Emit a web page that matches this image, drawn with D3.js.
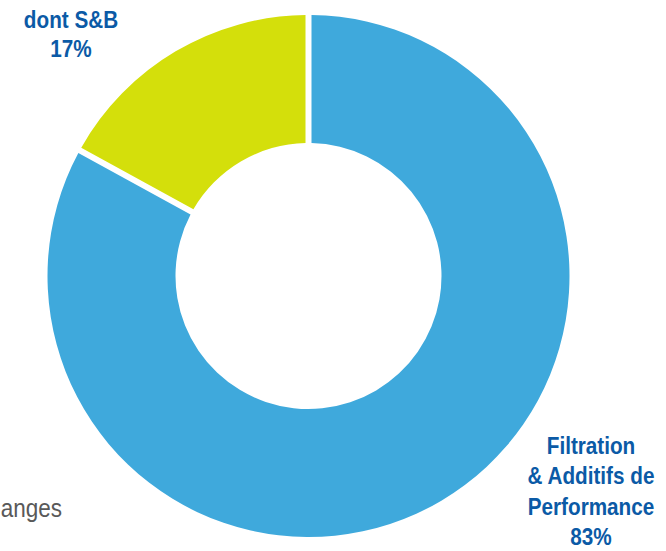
<!DOCTYPE html>
<html>
<head>
<meta charset="utf-8">
<script src="https://cdn.jsdelivr.net/npm/d3@7"></script>
<style>
  html, body { margin: 0; padding: 0; background: #ffffff; }
  svg { display: block; }
</style>
</head>
<body>
<svg id="chart" width="666" height="551"></svg>
<script>
const categories = ["Filtration & Additifs de Performance", "dont S&B"];
const values = [83, 17];
const labelLines = [
  ["Filtration", "& Additifs de", "Performance", "83%"],
  ["dont S&B", "17%"]
];
const colors = ["#3FA9DC", "#D4DF0B"];
const sideText = "anges";

const svg = d3.select("#chart");
const W = 666, H = 551;
const cx = 308.5, cy = 276, R = 261, r = 133;

const pie = d3.pie().sort(null).value(d => d)(values);
const arc = d3.arc().innerRadius(r).outerRadius(R).padAngle(0.06).padRadius(100);

const g = svg.append("g").attr("transform", `translate(${cx},${cy})`);
g.selectAll("path").data(pie).join("path")
  .attr("d", arc)
  .attr("fill", (d, i) => colors[i]);

// Labels
const labelPos = [
  { x: 591, y: 454 },
  { x: 71, y: 28 }
];
const lh = 30.5;
labelLines.forEach((lines, i) => {
  const t = svg.append("text")
    .attr("transform", `translate(${labelPos[i].x},${labelPos[i].y}) scale(0.9,1)`)
    .attr("text-anchor", "middle")
    .attr("font-family", "'Liberation Sans', Arial, sans-serif")
    .attr("font-weight", "bold")
    .attr("font-size", 23)
    .attr("fill", "#0B5AA6");
  lines.forEach((ln, j) => {
    t.append("tspan").attr("x", 0).attr("y", j * (i === 0 ? lh : 29)).text(ln);
  });
});

svg.append("text")
  .attr("transform", `translate(62,517) scale(0.9,1)`)
  .attr("text-anchor", "end")
  .attr("font-family", "'Liberation Sans', Arial, sans-serif")
  .attr("font-size", 25)
  .attr("fill", "#595959")
  .text(sideText);
</script>
</body>
</html>
